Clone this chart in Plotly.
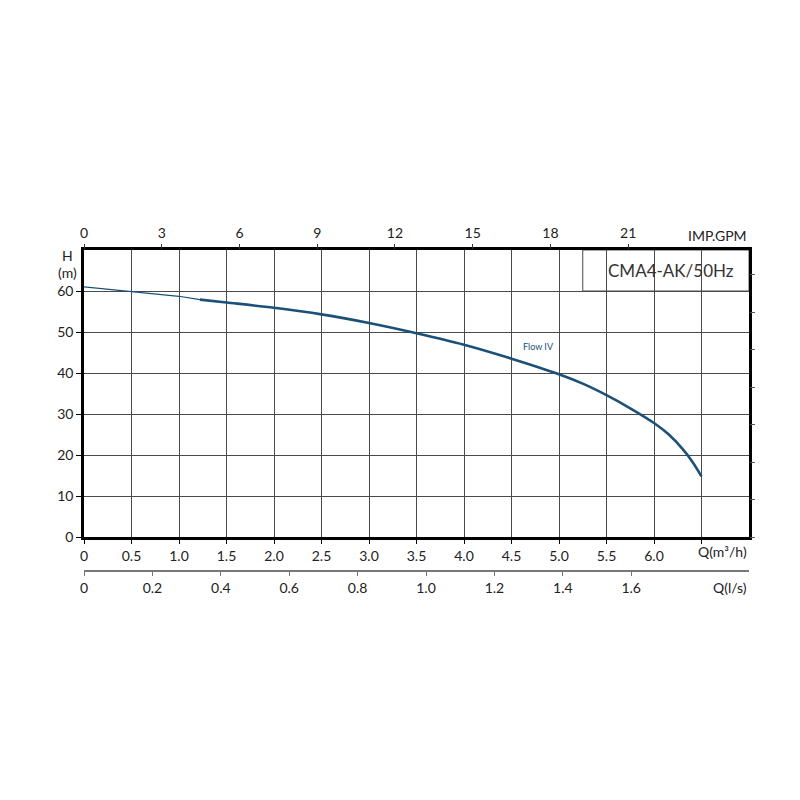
import plotly.graph_objects as go

# ---- data ----
flow_thin = [0.0, 0.5, 1.0, 1.22]
head_thin = [61.0, 59.9, 58.7, 57.9]
flow_curve = [1.22, 1.5, 2.0, 2.5, 3.0, 3.5, 4.0, 4.5, 5.0, 5.25, 5.5, 5.75, 6.0, 6.15, 6.3, 6.4, 6.5]
head_curve = [57.9, 57.2, 55.9, 54.3, 52.2, 49.7, 46.9, 43.5, 39.7, 37.4, 34.6, 31.4, 27.8, 25.1, 21.5, 18.5, 14.8]

x_ticks = [0, 0.5, 1.0, 1.5, 2.0, 2.5, 3.0, 3.5, 4.0, 4.5, 5.0, 5.5, 6.0, 6.5]
x_labels = ["0", "0.5", "1.0", "1.5", "2.0", "2.5", "3.0", "3.5", "4.0", "4.5", "5.0", "5.5", "6.0", ""]
y_ticks = [0, 10, 20, 30, 40, 50, 60]
gpm_ticks = [0, 3, 6, 9, 12, 15, 18, 21]
ls_ticks = [0, 0.2, 0.4, 0.6, 0.8, 1.0, 1.2, 1.4, 1.6]
ls_labels = ["0", "0.2", "0.4", "0.6", "0.8", "1.0", "1.2", "1.4", "1.6"]
ft_ticks = [0, 30, 60, 90, 120, 150, 180, 210]

Q_MAX = 7.0
H_MAX = 70.0
GPM_PER_M3H = 3.666
M3H_PER_LS = 3.6
M_PER_FT = 0.3048

BLUE = "#1b5079"
GRID = "#4a4a4a"
FONT = "Lato, Open Sans, sans-serif"
TXT = "#222222"

fig = go.Figure()
fig.add_trace(go.Scatter(x=flow_thin, y=head_thin, mode="lines",
                         line=dict(color=BLUE, width=1.1), showlegend=False, hoverinfo="skip"))
fig.add_trace(go.Scatter(x=flow_curve, y=head_curve, mode="lines",
                         line=dict(color=BLUE, width=2.6, shape="spline", smoothing=1.0),
                         showlegend=False))
# helper traces to activate secondary axes
fig.add_trace(go.Scatter(x=[0], y=[0], xaxis="x2", yaxis="y", mode="markers",
                         marker=dict(opacity=0), showlegend=False, hoverinfo="skip"))
fig.add_trace(go.Scatter(x=[0], y=[0], xaxis="x3", yaxis="y", mode="markers",
                         marker=dict(opacity=0), showlegend=False, hoverinfo="skip"))
fig.add_trace(go.Scatter(x=[0], y=[0], xaxis="x", yaxis="y2", mode="markers",
                         marker=dict(opacity=0), showlegend=False, hoverinfo="skip"))

PLOT_TOP, PLOT_BOTTOM = 250, 571
PH = PLOT_BOTTOM - PLOT_TOP
ydom0 = 34 / PH


def py(pix):
    """paper y for a pixel row"""
    return (PLOT_BOTTOM - pix) / PH


def ann(text, x, y, xref="paper", xanchor="center", size=14, color=TXT):
    return dict(text=text, xref=xref, yref="paper", x=x, y=py(y), xanchor=xanchor,
                yanchor="middle", showarrow=False, font=dict(size=size, color=color))


fig.update_layout(
    width=800, height=800,
    margin=dict(l=84, r=51, t=PLOT_TOP, b=800 - PLOT_BOTTOM),
    paper_bgcolor="white", plot_bgcolor="white",
    font=dict(family=FONT, size=14, color=TXT),
    xaxis=dict(range=[0, Q_MAX], tickvals=x_ticks, ticktext=x_labels,
               showgrid=True, gridcolor=GRID, gridwidth=1,
               showline=True, linecolor="black", linewidth=2.5, mirror=True,
               ticks="outside", ticklen=4, tickcolor="black", zeroline=False,
               anchor="y", fixedrange=True),
    yaxis=dict(range=[0, H_MAX], tickvals=y_ticks, domain=[ydom0, 1],
               showgrid=True, gridcolor=GRID, gridwidth=1,
               showline=True, linecolor="black", linewidth=2.5, mirror=True,
               ticks="outside", ticklen=5, tickcolor="black", zeroline=False,
               fixedrange=True),
    xaxis2=dict(range=[0, Q_MAX * GPM_PER_M3H], overlaying="x", side="top",
                tickvals=gpm_ticks, showgrid=False, showline=False, zeroline=False,
                ticks="outside", ticklen=5, tickcolor="#333", anchor="y", fixedrange=True),
    xaxis3=dict(range=[0, Q_MAX / M3H_PER_LS], overlaying="x", side="bottom",
                anchor="free", position=0, tickvals=ls_ticks, ticktext=ls_labels,
                showgrid=False, showline=True, linecolor="#777", linewidth=1.5,
                zeroline=False, ticks="outside", ticklen=4, tickcolor="#777",
                fixedrange=True),
    yaxis2=dict(range=[0, H_MAX / M_PER_FT], overlaying="y", side="right",
                tickvals=ft_ticks, showticklabels=False, showgrid=False,
                showline=False, zeroline=False, ticks="outside", ticklen=5,
                tickcolor="#555", fixedrange=True),
    shapes=[
        dict(type="rect", xref="x", yref="y", x0=5.25, x1=Q_MAX, y0=60, y1=H_MAX,
             fillcolor="white", line=dict(color=GRID, width=1), layer="below"),
    ],
    annotations=[
        dict(text="CMA4-AK/50Hz", xref="x", yref="y", x=6.18, y=65, xanchor="center",
             yanchor="middle", showarrow=False, font=dict(size=17, color="#333")),
        dict(text="Flow IV", xref="x", yref="y", x=4.78, y=46.4, xanchor="center",
             yanchor="middle", showarrow=False, font=dict(size=9, color=BLUE)),
        ann("H", -17 / 665, 255),
        ann("(m)", -17 / 665, 272),
        ann("IMP.GPM", 1.0, 235, xanchor="right"),
        ann("Q(m³/h)", 1.0, 551, xanchor="right"),
        ann("Q(l/s)", 1.0, 587, xanchor="right"),
    ],
)

fig.write_html("out.html")
